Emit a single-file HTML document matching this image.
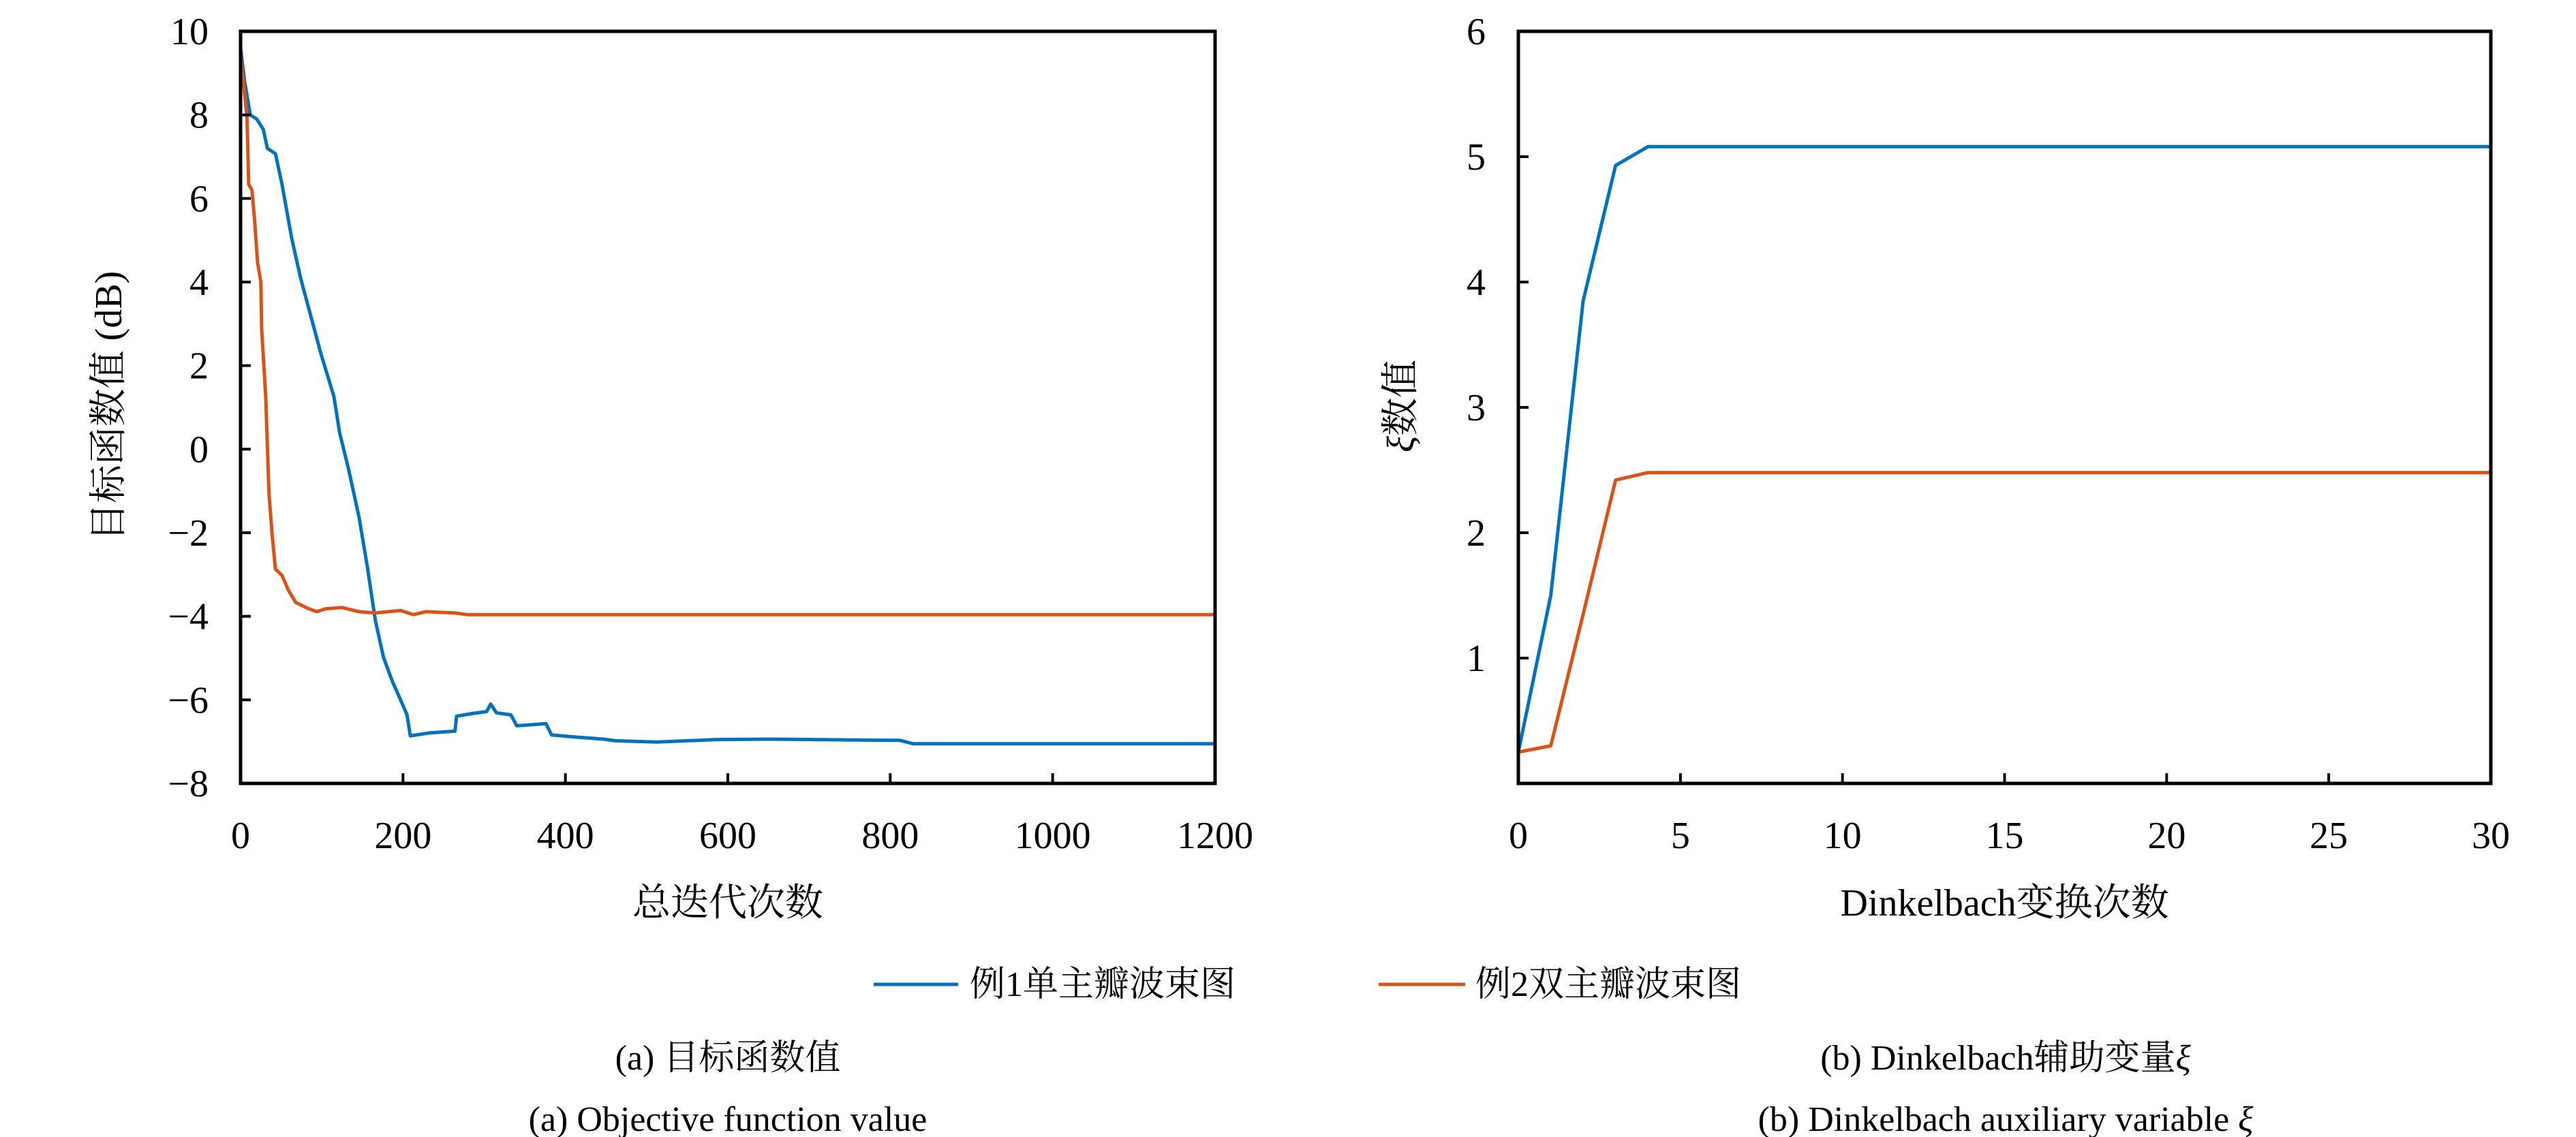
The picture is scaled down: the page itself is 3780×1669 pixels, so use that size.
<!DOCTYPE html>
<html><head><meta charset="utf-8">
<style>
html,body{margin:0;padding:0;background:#fff;}
svg{display:block;}
text{font-family:"Liberation Serif","Noto Serif CJK SC",serif;fill:#000;}
</style></head>
<body>
<svg id="fig" width="3780" height="1669" viewBox="0 0 3780 1669" xmlns="http://www.w3.org/2000/svg">
<g id="plotA"></g>
<g id="plotB"></g>
<g id="legend">
  <line x1="1282" y1="1445" x2="1406" y2="1445" stroke="#0072BD" stroke-width="5"/>
  <text x="1423" y="1462" font-size="52">例1单主瓣波束图</text>
  <line x1="2023" y1="1445" x2="2150" y2="1445" stroke="#D95319" stroke-width="5"/>
  <text x="2165" y="1462" font-size="52">例2双主瓣波束图</text>
</g>
<text x="1068" y="1570" font-size="52" text-anchor="middle">(a) 目标函数值</text>
<text x="1068" y="1660" font-size="52" text-anchor="middle">(a) Objective function value</text>
<text x="2943" y="1570" font-size="52" text-anchor="middle">(b) Dinkelbach辅助变量<tspan font-style="italic">ξ</tspan></text>
<text x="2943" y="1660" font-size="52" text-anchor="middle">(b) Dinkelbach auxiliary variable <tspan font-style="italic">ξ</tspan></text>
</svg>
<script>
// Plot A data
const iterA1 = [0,5,12,20,28,33,43,51,63,74,86,99,115,122,133,146,156,166,176,187,197,205,209,233,264,266,284,303,308,315,333,340,376,383,412,447,462,513,585,651,812,828,1200];
const valA1 = [9.6,8.8,8.0,7.9,7.65,7.2,7.07,6.34,5.04,4.09,3.22,2.28,1.26,0.39,-0.48,-1.64,-2.8,-4.1,-4.98,-5.56,-6.0,-6.36,-6.86,-6.79,-6.75,-6.39,-6.33,-6.28,-6.1,-6.31,-6.36,-6.62,-6.57,-6.84,-6.89,-6.94,-6.98,-7.01,-6.95,-6.94,-6.97,-7.05,-7.05];
const iterA2 = [0,8,10,14,17,21,25,26,31,35,39,43,51,59,68,84,94,105,125,146,166,197,213,228,264,279,1200];
const valA2 = [9.46,7.94,6.34,6.2,5.54,4.46,4.0,2.86,1.26,-1.06,-2.08,-2.87,-3.02,-3.38,-3.67,-3.82,-3.89,-3.82,-3.79,-3.89,-3.92,-3.86,-3.96,-3.89,-3.92,-3.96,-3.96];
const xTicksA = [0,200,400,600,800,1000,1200];
const yTicksA = [10,8,6,4,2,0,-2,-4,-6,-8];
// Plot B data
const iterB = [0,1,2,3,4,5,10,15,20,25,30];
const valB1 = [0.25,1.5,3.85,4.93,5.08,5.08,5.08,5.08,5.08,5.08,5.08];
const valB2 = [0.25,0.3,1.35,2.42,2.48,2.48,2.48,2.48,2.48,2.48,2.48];
const xTicksB = [0,5,10,15,20,25,30];
const yTicksB = [1,2,3,4,5,6];

const NS = "http://www.w3.org/2000/svg";
function mk(tag, attrs, parent){
  const e = document.createElementNS(NS, tag);
  for (const k in attrs) e.setAttribute(k, attrs[k]);
  parent.appendChild(e);
  return e;
}
function drawPlot(g, cfg){
  const L=cfg.L,R=cfg.R,T=46,B=1150;
  const sx = v => L + (v-cfg.x0)/(cfg.x1-cfg.x0)*(R-L);
  const sy = v => B - (v-cfg.y0)/(cfg.y1-cfg.y0)*(B-T);
  cfg.series.forEach(s=>{
    let d='';
    s.x.forEach((xv,i)=>{ d += (i?'L':'M') + sx(xv).toFixed(1) + ',' + sy(s.y[i]).toFixed(1); });
    const p = mk('path',{d:d,fill:'none',stroke:s.color,'stroke-width':5,'stroke-linejoin':'round'},g);
    
    
  });
  const fr = mk('rect',{x:L,y:T,width:R-L,height:B-T,fill:'none',stroke:'#000','stroke-width':5},g);
  
  
  cfg.xt.forEach(v=>{
    const x=sx(v);
    if (v!==cfg.x0 && v!==cfg.x1) {
      const t = mk('line',{x1:x,y1:B,x2:x,y2:B-15,stroke:'#000','stroke-width':4},g);
      
      
    }
    const tx = mk('text',{x:x,y:1245,'font-size':56,'text-anchor':'middle'},g);
    tx.textContent = v;
    
    
  });
  cfg.yt.forEach(v=>{
    const y=sy(v);
    if (v!==cfg.y0 && v!==cfg.y1) {
      const t = mk('line',{x1:L,y1:y,x2:L+15,y2:y,stroke:'#000','stroke-width':4},g);
      
      
    }
    const tx = mk('text',{x:cfg.ylx,y:y+19,'font-size':56,'text-anchor':'end'},g);
    tx.textContent = v<0 ? '\u2212'+(-v) : v;
    
    
  });
  const xt = mk('text',{x:(L+R)/2,y:1344,'font-size':56,'text-anchor':'middle'},g);
  xt.textContent = cfg.xtitle;
  
  
  const yt = mk('text',{x:0,y:0,'font-size':56,'text-anchor':'middle',transform:'translate('+cfg.ytx+',596) rotate(-90)'},g);
  yt.innerHTML = cfg.ytitle;
  
  
}
drawPlot(document.getElementById('plotA'),{
  L:353,R:1783,x0:0,x1:1200,y0:-8,y1:10,xt:xTicksA,yt:yTicksA,ylx:306,ytx:178,
  xtitle:'总迭代次数', ytitle:'目标函数值 (dB)',
  series:[{x:iterA1,y:valA1,color:'#0072BD',name:'series-example1'},{x:iterA2,y:valA2,color:'#D95319',name:'series-example2'}]
});
drawPlot(document.getElementById('plotB'),{
  L:2228,R:3655,x0:0,x1:30,y0:0,y1:6,xt:xTicksB,yt:yTicksB,ylx:2180,ytx:2074,
  xtitle:'Dinkelbach变换次数', ytitle:'<tspan font-style="italic">ξ</tspan>数值',
  series:[{x:iterB,y:valB1,color:'#0072BD',name:'series-example1'},{x:iterB,y:valB2,color:'#D95319',name:'series-example2'}]
});
</script>
</body></html>
